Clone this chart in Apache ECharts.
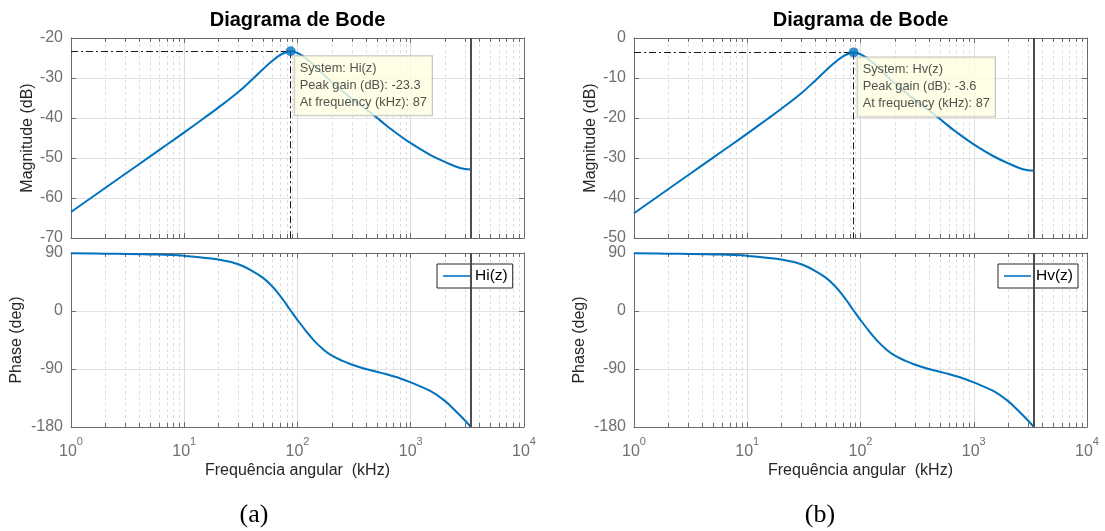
<!DOCTYPE html>
<html><head><meta charset="utf-8">
<script src="https://cdn.jsdelivr.net/npm/echarts@6/dist/echarts.min.js"></script>
<style>html,body{margin:0;padding:0;background:#fff}#c{width:1105px;height:531px}</style>
</head><body><div id="c"></div>
<script>
// ---- data ----
const freqMag = [1, 1.5, 2, 3, 5, 7, 10, 15, 20, 30, 40, 50, 60, 70, 80, 87, 95, 110, 130, 160, 200, 300, 438, 536, 700, 1000, 1480, 2080, 2720, 3400];
const magHi = [-63.5, -60.0, -57.5, -54.0, -49.6, -46.7, -43.6, -40.0, -37.4, -33.5, -30.3, -27.7, -25.7, -24.3, -23.5, -23.3, -23.5, -24.4, -26.0, -28.4, -31.0, -35.1, -38.6, -40.6, -43.2, -46.3, -49.2, -51.2, -52.5, -52.9];
const magHv = [-43.8, -40.3, -37.8, -34.3, -29.9, -27.0, -23.9, -20.3, -17.7, -13.8, -10.6, -8.0, -6.0, -4.6, -3.8, -3.6, -3.8, -4.7, -6.3, -8.7, -11.3, -15.4, -18.9, -20.9, -23.5, -26.6, -29.5, -31.5, -32.8, -33.2];
const freqPhase = [1, 2, 5, 10, 20, 30, 40, 50, 60, 70, 80, 90, 100, 120, 140, 170, 200, 250, 300, 400, 500, 600, 700, 800, 1000, 1500, 2000, 2500, 3000, 3400];
const phaseHi = [89.5, 89.0, 87.8, 85.6, 80.0, 72.5, 62.0, 51.0, 38.0, 24.0, 10.0, -3.0, -14.0, -32.0, -46.0, -60.0, -69.0, -77.5, -83.0, -90.0, -94.3, -97.8, -101.2, -104.3, -110.8, -124.5, -139.5, -155.5, -169.5, -180.0];
const phaseHv = [89.5, 89.0, 87.8, 85.6, 80.0, 72.5, 62.0, 51.0, 38.0, 24.0, 10.0, -3.0, -14.0, -32.0, -46.0, -60.0, -69.0, -77.5, -83.0, -90.0, -94.3, -97.8, -101.2, -104.3, -110.8, -124.5, -139.5, -155.5, -169.5, -180.0];
const minorFreqs = [2,3,4,5,6,7,8,9,20,30,40,50,60,70,80,90,200,300,400,500,600,700,800,900,2000,3000,4000,5000,6000,7000,8000,9000];
const peakFreq = 87;
const peakHi = -23.3;
const peakHv = -3.6;
const nyquistFreq = 3400;
const magRangeHi = [-70, -20];
const magRangeHv = [-50, 0];
const phaseRange = [-180, 90];
const titleText = 'Diagrama de Bode';
const xName = 'Frequência angular  (kHz)';
const magName = 'Magnitude (dB)';
const phaseName = 'Phase (deg)';

// ---- chart ----
const FONT = '"Liberation Sans", Arial, Helvetica, sans-serif';
const BLUE = '#0072BD';
const AXC = '#6a6a6a';
const TICKC = '#707070';
const NAMEC = '#262626';

const panels = [
  {left: 71, sys: 'Hi(z)', mag: magHi, phase: phaseHi, magRange: magRangeHi, peak: peakHi, legendLeft: 437, tag: '(a)', tagX: 254},
  {left: 634, sys: 'Hv(z)', mag: magHv, phase: phaseHv, magRange: magRangeHv, peak: peakHv, legendLeft: 998, tag: '(b)', tagX: 820}
];
const PW = 453;

function minorRender(params, api) {
  const pt = api.coord([api.value(0), api.value(1)]);
  const x = Math.round(pt[0]) + 0.5;
  const cs = params.coordSys;
  const top = cs.y, bottom = cs.y + cs.height;
  return {type: 'group', children: [
    {type: 'line', shape: {x1: x, y1: top, x2: x, y2: bottom}, style: {stroke: '#dddddd', lineWidth: 1, lineDash: [3, 3]}},
    {type: 'line', shape: {x1: x, y1: bottom, x2: x, y2: bottom - 4}, style: {stroke: AXC, lineWidth: 1}},
    {type: 'line', shape: {x1: x, y1: top, x2: x, y2: top + 4}, style: {stroke: AXC, lineWidth: 1}}
  ]};
}

const option = {animation: false, grid: [], xAxis: [], yAxis: [], series: [], legend: [], graphic: []};

panels.forEach((p, i) => {
  const gm = 2 * i, gp = 2 * i + 1;
  option.grid.push({left: p.left, top: 38, width: PW, height: 200});
  option.grid.push({left: p.left, top: 253, width: PW, height: 174});
  [gm, gp].forEach(g => {
    const isPhase = g === gp;
    const r = isPhase ? phaseRange : p.magRange;
    option.xAxis.push({
      type: 'log', logBase: 10, min: 1, max: 10000, gridIndex: g, position: 'bottom',
      axisLine: {show: true, onZero: false, lineStyle: {color: AXC, width: 1}},
      axisTick: {show: true, inside: true, length: 5, lineStyle: {color: AXC}},
      axisLabel: {show: isPhase, margin: 9, color: TICKC, fontFamily: FONT,
        formatter: v => '{b|10}{s|' + Math.round(Math.log10(v)) + '}',
        rich: {b: {fontSize: 16, fontFamily: FONT, color: TICKC, lineHeight: 24, verticalAlign: 'bottom'},
               s: {fontSize: 11, fontFamily: FONT, color: TICKC, lineHeight: 12, verticalAlign: 'top'}}},
      splitLine: {show: true, lineStyle: {color: '#dcdcdc', width: 1}},
      name: isPhase ? xName : '', nameLocation: 'middle', nameGap: 36,
      nameTextStyle: {fontSize: 16, fontFamily: FONT, color: NAMEC}
    });
    option.xAxis.push({
      type: 'log', logBase: 10, min: 1, max: 10000, gridIndex: g, position: 'top',
      axisLine: {show: true, onZero: false, lineStyle: {color: AXC, width: 1}},
      axisTick: {show: true, inside: true, length: 5, lineStyle: {color: AXC}},
      axisLabel: {show: false}, splitLine: {show: false}
    });
    option.yAxis.push({
      type: 'value', gridIndex: g, min: r[0], max: r[1], interval: isPhase ? 90 : 10, position: 'left',
      axisLine: {show: true, onZero: false, lineStyle: {color: AXC, width: 1}},
      axisTick: {show: true, inside: true, length: 5, lineStyle: {color: AXC}},
      axisLabel: {show: true, margin: 8, fontSize: 16, color: TICKC, fontFamily: FONT, showMinLabel: true, showMaxLabel: true},
      splitLine: {show: true, lineStyle: {color: '#e2e2e2', width: 1}},
      name: isPhase ? phaseName : magName, nameLocation: 'middle', nameRotate: 90,
      nameGap: isPhase ? 46 : 35,
      nameTextStyle: {fontSize: 16, fontFamily: FONT, color: NAMEC}
    });
    option.yAxis.push({
      type: 'value', gridIndex: g, min: r[0], max: r[1], interval: isPhase ? 90 : 10, position: 'right',
      axisLine: {show: true, onZero: false, lineStyle: {color: AXC, width: 1}},
      axisTick: {show: true, inside: true, length: 5, lineStyle: {color: AXC}},
      axisLabel: {show: false}, splitLine: {show: false}
    });
    const xi = 2 * g, yi = 2 * g;
    option.series.push({
      type: 'custom', xAxisIndex: xi, yAxisIndex: yi, silent: true, z: 1,
      data: minorFreqs.map(f => [f, r[0]]), renderItem: minorRender
    });
    const fx = isPhase ? freqPhase : freqMag;
    const fy = isPhase ? p.phase : p.mag;
    option.series.push({
      type: 'line', name: isPhase ? p.sys : p.sys + ' mag', xAxisIndex: xi, yAxisIndex: yi,
      data: fx.map((f, k) => [f, fy[k]]), symbol: 'none', smooth: 0.4,
      lineStyle: {color: BLUE, width: 2}, itemStyle: {color: BLUE}, z: 3,
      markLine: {silent: true, symbol: ['none', 'none'], label: {show: false},
        lineStyle: {color: '#4d4d4d', width: 2, type: 'solid'}, data: [{xAxis: nyquistFreq}]}
    });
    if (!isPhase) {
      option.series.push({
        type: 'scatter', xAxisIndex: xi, yAxisIndex: yi, z: 6, symbol: 'circle', symbolSize: 10,
        itemStyle: {color: BLUE}, data: [[peakFreq, p.peak]],
        label: {show: true, position: [9, 10],
          formatter: 'System: ' + p.sys + '\nPeak gain (dB): ' + p.peak + '\nAt frequency (kHz): ' + peakFreq,
          fontSize: 12.8, lineHeight: 17, fontFamily: FONT, color: '#262626',
          backgroundColor: '#ffffe1', borderColor: '#b4b4b4', borderWidth: 1, padding: [4, 5, 4, 5]},
        markLine: {silent: true, symbol: ['none', 'none'], label: {show: false},
          lineStyle: {color: '#1a1a1a', width: 1, type: [7, 3, 2, 3]},
          data: [
            [{coord: [1, p.peak]}, {coord: [peakFreq, p.peak]}],
            [{coord: [peakFreq, p.peak]}, {coord: [peakFreq, p.magRange[0]]}]
          ]}
      });
    }
  });
  option.legend.push({
    data: [{name: p.sys, icon: 'rect', itemStyle: {color: '#3a8fd0'}}], left: p.legendLeft, top: 264, orient: 'horizontal', selectedMode: false,
    backgroundColor: '#ffffff', borderColor: '#262626', borderWidth: 1, borderRadius: 0,
    padding: [4, 5, 4, 6], itemWidth: 27, itemHeight: 2, itemGap: 5,
    textStyle: {fontSize: 15.5, fontFamily: FONT, color: '#000', lineHeight: 16}
  });
  option.graphic.push({type: 'text', x: p.left + PW / 2, y: 20,
    style: {text: titleText, fill: '#000', font: 'bold 20px ' + FONT, textAlign: 'center', textVerticalAlign: 'middle'}});
  option.graphic.push({type: 'text', x: p.tagX, y: 515,
    style: {text: p.tag, fill: '#000', font: '26px "Liberation Serif", "DejaVu Serif", serif', textAlign: 'center', textVerticalAlign: 'middle'}});
});

const chart = echarts.init(document.getElementById('c'));
chart.setOption(option);
</script>
</body></html>
